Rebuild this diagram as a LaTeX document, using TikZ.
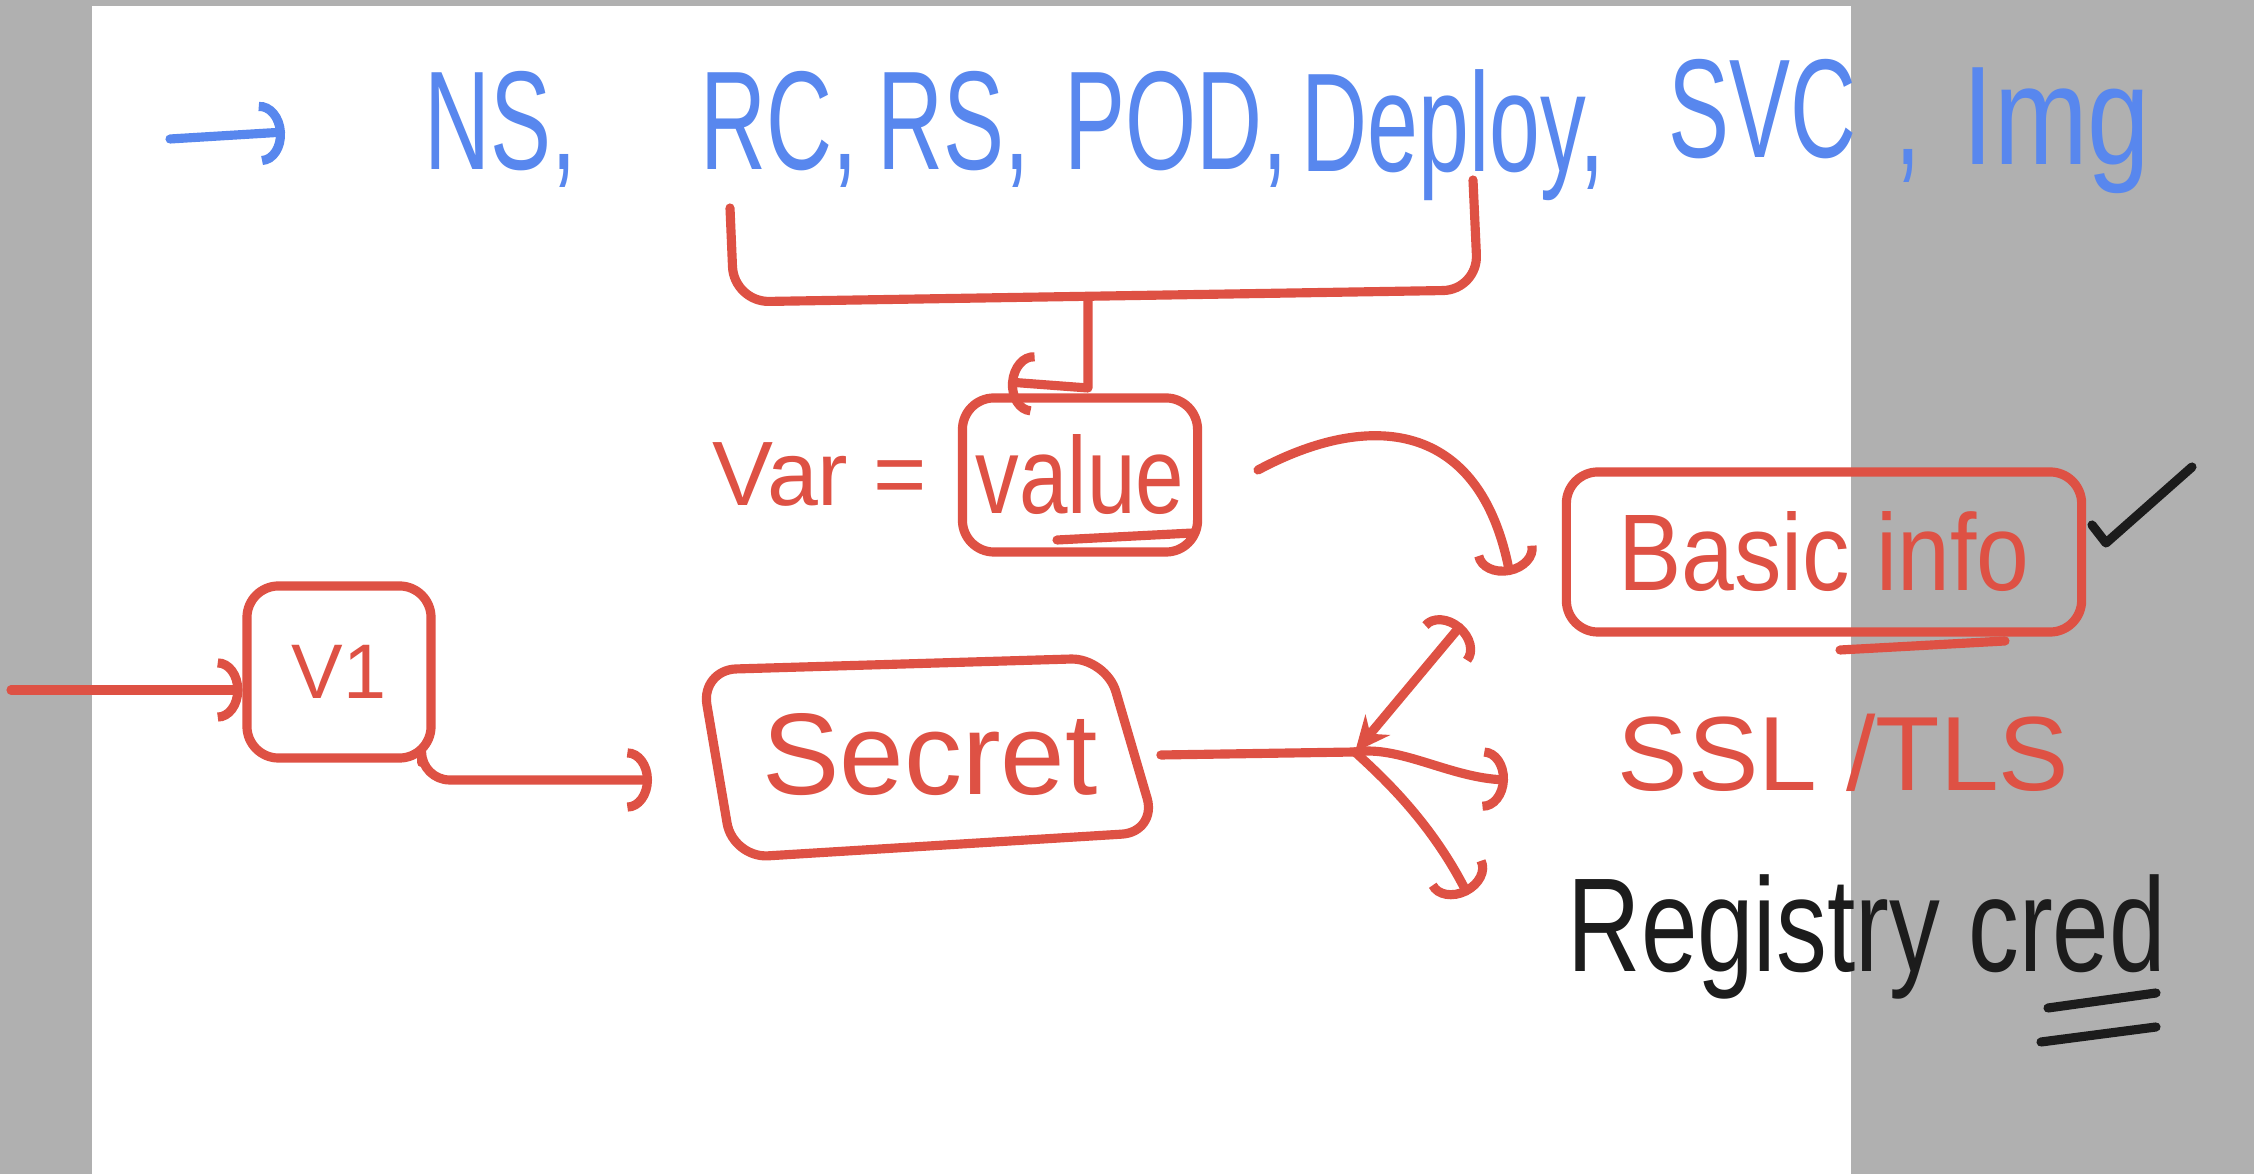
\documentclass[tikz,border=0pt]{standalone}
\usepackage{fontspec}
\setmainfont{Liberation Sans}
\usepackage{graphicx}
\usetikzlibrary{arrows.meta,positioning}
\definecolor{inkblue}{HTML}{5887EE}
\definecolor{inkred}{HTML}{DE5144}
\definecolor{inkblack}{HTML}{1C1C1C}
\definecolor{pagegray}{HTML}{B0B0B0}
\newcommand{\squeeze}[2][0.65]{\scalebox{#1}[1]{#2}}

\begin{document}
\begin{tikzpicture}[x=0.01cm, y=-0.01cm, line cap=round, line join=round,
  >={Arc Barb[length=7pt, width=18pt]},
  redink/.style={line width=2.6pt, draw=inkred},
  blueink/.style={line width=2.6pt, draw=inkblue},
  blackink/.style={line width=2.6pt, draw=inkblack},
  boxnode/.style={redink, rounded corners=9pt, inner sep=0pt, text=inkred},
  blueword/.style={text=inkblue, anchor=base west, inner sep=0pt, font=\fontsize{40}{44}\selectfont},
  redword/.style={text=inkred, inner sep=0pt}]
  \useasboundingbox (0,0) rectangle (2254,1174);
  % page
  \fill[pagegray] (0,0) rectangle (2254,1174);
  \fill[white] (92,6) rectangle (1851,1174);

  % top line of objects
  \coordinate (lead0) at (170,139);
  \coordinate (lead1) at (285,132);
  \draw[blueink, ->] (lead0) -- (lead1);
  \node[blueword] (ns) at (424,170) {\squeeze{NS,}};
  \node[blueword] (rc) at (700,170) {\squeeze{RC,}};
  \node[blueword] (rs) at (877,170) {\squeeze{RS,}};
  \node[blueword] (pod) at (1064,170) {\squeeze{POD,}};
  \node[blueword] (deploy) at (1301,172) {\squeeze{Deploy,}};
  \node[blueword] (svc) at (1668,158) {\squeeze{SVC}};
  \node[blueword] (comma) at (1895,165) {\squeeze{,}};
  \node[blueword] (img) at (1962,165) {\squeeze[0.8]{Img}};

  % bracket under RC .. Deploy
  \coordinate (brL) at (730,208);
  \coordinate (brR) at (1473,180);
  \coordinate (brM) at (1088,297);
  \draw[redink, rounded corners=10pt] (brL) -- (734,302) -- (1478,290) -- (brR);

  % value
  \node[boxnode, minimum width=2.35cm, minimum height=1.54cm,
    font=\fontsize{31}{34}\selectfont] (value) at (1080,475) {\squeeze[0.8]{value}};
  \node[redword, left=0.3cm of value, font=\fontsize{26}{30}\selectfont] (var) {Var =};
  \draw[redink] (1057,540) -- (1193,533);
  \coordinate (valtip) at (1008,382);
  \draw[redink, ->] (brM) -- (1088,388) -- (valtip);

  % basic info
  \node[boxnode, minimum width=5.15cm, minimum height=1.6cm,
    font=\fontsize{31}{34}\selectfont] (basic) at (1824,552) {\squeeze[0.87]{Basic info}};
  \draw[redink] (1840,650) -- (2005,641);
  \draw[blackink] (2092,525) -- (2106,543) -- (2192,467);
  \coordinate (vb0) at (1258,470);
  \coordinate (vb1) at (1510,575);
  \draw[redink, ->] (vb0) .. controls (1370,410) and (1480,420) .. (vb1);

  % v1 and secret
  \node[boxnode, minimum width=1.84cm, minimum height=1.72cm,
    font=\fontsize{22}{24}\selectfont] (v1) at (339,672) {V1};
  \coordinate (in) at (11,690);
  \draw[redink, ->] (in) -- (in -| v1.west);
  \node[redword, minimum width=4.6cm, font=\fontsize{33}{36}\selectfont] (secret) at (930,755) {Secret};
  \draw[redink, rounded corners=10pt] (701,670) -- (1106,658) -- (1157,832) -- (733,858) -- cycle;
  \coordinate (s1) at (652,780);
  \draw[redink, ->, rounded corners=8pt] ([xshift=-0.14cm]v1.south east) |- (s1);

  % fan out of secret
  \coordinate (jn) at (1355,752);
  \coordinate (bi) at (1462,624);
  \coordinate (ssl) at (1508,780);
  \coordinate (reg) at (1468,895);
  \draw[redink] (secret.east) -- (jn);
  \draw[redink, {Stealth[length=10pt, width=9pt]}->] (jn) -- (bi);
  \draw[redink, ->] (jn) .. controls (1400,745) and (1450,778) .. (ssl);
  \draw[redink, ->] (jn) .. controls (1380,775) and (1430,820) .. (reg);

  \node[redword, anchor=base west, font=\fontsize{30}{34}\selectfont] (tls) at (1617,791) {SSL /TLS};
  \node[anchor=base west, inner sep=0pt, text=inkblack, font=\fontsize{38}{40}\selectfont] (cred) at (1567,972) {\squeeze[0.76]{Registry cred}};
  \draw[blackink] (2048,1008) -- (2156,993);
  \draw[blackink] (2041,1042) -- (2156,1027);
\end{tikzpicture}
\end{document}
